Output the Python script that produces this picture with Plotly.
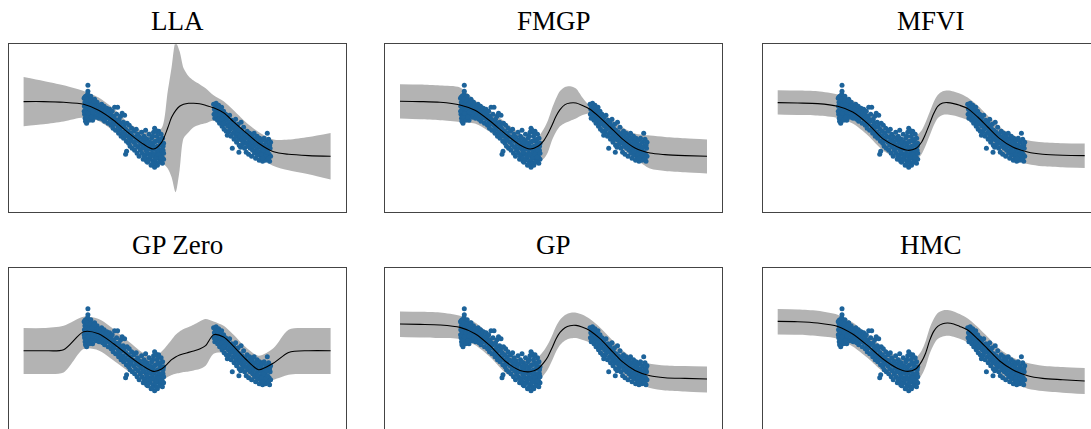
import plotly.graph_objects as go

# ---------------- data ----------------
GRID_X = [0, 20, 40, 60, 75, 90, 105, 120, 130, 138, 144, 148, 152, 156, 160, 165,
          170, 176, 182, 190, 200, 210, 222, 235, 250, 265, 285, 307]

TITLES = ["LLA", "FMGP", "MFVI", "GP Zero", "GP", "HMC"]

LLA_MEAN = [26.7, 26.7, 26, 24, 18, 8, -4.7, -16, -20.7, -14, 0, 11, 17.7, 22, 24, 25,
            25, 24.5, 23, 20.5, 15.5, 6.5, -4, -15, -23.5, -26, -27.3, -28]
LLA_UPPER = [51.3, 47.3, 43, 37.3, 30.7, 19.7, 5.3, -3, -3, 0, 36, 61, 86, 77, 60, 52,
             47.7, 44, 40, 33, 27, 18, 6.3, -3.7, -11.3, -11.3, -8.7, -4.7]
LLA_LOWER = [2, 4, 6.7, 10.7, 7.3, -2.7, -14.7, -25.3, -31, -34, -40, -49, -64, -42, -10, -4,
             1, 3.5, 5, 7.5, 0, -8.7, -18.7, -28.7, -37.7, -42, -46, -51.3]

FMGP_MEAN = [27, 26.7, 26, 23.3, 18, 7.3, -5.3, -16.7, -20.7, -18, -12, -5.3, 3, 12, 18.7, 23.7,
             25.3, 25.3, 23, 19, 10.7, 1.3, -10.3, -19.7, -24.7, -26.3, -27.3, -28]
FMGP_UPPER = [44, 43.7, 42.7, 40.7, 28, 18, 6.3, -5.3, -11.3, -8.7, -0.3, 8, 19.7, 29.7, 37.3, 41.3,
              42, 39.7, 31.3, 22, 16.3, 9.7, 1.3, -5.3, -7.3, -8.7, -10, -11.3]
FMGP_LOWER = [9.7, 9, 8, 6.3, 4.7, -3.7, -15.3, -27, -32, -33.7, -30.3, -23.7, -12, -3.7, 2, 5.3,
              7.3, 9.7, 13, 14.7, 3, -8.7, -20.3, -30.3, -40.3, -42.7, -44, -45.3]

MFVI_MEAN = [25.7, 25.3, 24.7, 22, 16.3, 4.7, -10.3, -18.7, -22, -20.3, -13.7, -5.3, 4.7, 14.7, 22, 25.3,
             25.7, 24.7, 23, 19.7, 11.3, 1.3, -10.3, -18.7, -23.7, -26, -27, -27.3]
MFVI_UPPER = [38, 37.7, 37, 33.7, 28, 16.3, 1.3, -7, -10, -8, -2, 6.3, 16.3, 26.3, 33.3, 37,
              37.7, 36.7, 34.7, 30.7, 22.7, 12.7, 1.3, -6.7, -12, -14, -15, -15.3]
MFVI_LOWER = [13.7, 13.3, 12.7, 10.3, 4.7, -7, -22, -30.7, -34, -32.3, -25.7, -17.3, -7.3, 2.7, 10, 13.3,
              13.7, 12.7, 11, 8, -0.3, -10.3, -22, -30.7, -35.7, -38, -39, -39.7]

GPZ_MEAN = [1, 1, 2, 20, 18, 8, -4, -14.7, -19.7, -17.3, -12, -8, -5.3, -3.3, -2, -0.7,
            0.7, 2.7, 6, 17, 14.7, 5.3, -7.3, -18, -11.3, -0.7, 1, 1]
GPZ_UPPER = [23.7, 23.7, 26, 35, 32.7, 22.7, 10.3, -1.3, -4.7, 0.3, 7, 12, 17, 20.3, 22.7, 24.7,
             27, 30.3, 32.7, 30.3, 26, 17, 4.7, -4, 3.7, 22, 23.7, 23.7]
GPZ_LOWER = [-22.3, -22.3, -20.7, 2.7, 1.3, -8.7, -19.7, -28.7, -32, -29.7, -25.3, -23.3, -22, -21.3, -20.3, -19.7,
             -18.7, -17.3, -14, -2, -1.3, -10.7, -22, -31.3, -28, -23, -22.3, -22.3]

GP_MEAN = [27.7, 27.3, 26.7, 24.3, 18, 6, -9.3, -18.7, -20, -17, -10.7, -4.7, 3.7, 12.7, 19.3, 24,
           26, 26.3, 24.7, 21, 13, 2.7, -9.7, -18.7, -24, -26, -26.7, -27.3]
GP_UPPER = [40.3, 40, 39.3, 36, 29.3, 17.3, 2, -7.3, -8.7, -5.3, 1.3, 7.7, 16, 25.3, 32, 36.7,
            38.7, 39, 37.3, 32.7, 24.3, 14, 1.7, -7.3, -12, -13.7, -14.3, -14.7]
GP_LOWER = [14.7, 14.3, 13.7, 12.7, 6.7, -5.3, -20.7, -30, -31.3, -28.7, -23, -17.3, -9, 0, 6.7, 11.3,
            13.3, 13.7, 12, 9.3, 1.7, -8.7, -21, -30, -36.3, -38.7, -39.7, -40.7]

HMC_MEAN = [30.3, 30, 28.7, 25.3, 17.7, 6, -7, -16.7, -19.7, -17.3, -9.7, -1.3, 11.3, 20.3, 25.3, 28,
            28.7, 27.7, 25.3, 21.7, 12.7, 2.7, -9.3, -18, -24, -26.7, -28, -29.3]
HMC_UPPER = [42.7, 42.3, 41, 37, 29.3, 17.7, 4.7, -5, -8, -6, 1.3, 10.7, 23.7, 32.7, 38.7, 41.3,
             41.7, 40.3, 37.7, 33.3, 24.7, 14.7, 2.7, -5.7, -11.3, -14, -15.3, -16.3]
HMC_LOWER = [17.3, 17, 15.7, 13, 5.3, -6.3, -19.7, -29.3, -32.7, -30.7, -23.3, -14.7, -2, 7, 12.7, 15.3,
             16, 15, 13, 9.3, 0.3, -9.7, -22, -31, -37, -39.3, -41, -42.3]

CLUSTER1_X = [60.5, 60.8, 61, 61.3, 61.5, 61.8, 62, 62.3, 62.6, 63, 63, 63.4, 63.7, 64, 64.3, 64.3, 64.5, 64.8,
              65.2, 65.5, 65.8, 66.2, 66.5, 67, 67.2, 67.6, 68, 68.3, 68.7, 69, 69.5, 70, 70.3,
              71, 71.5, 72, 72.4, 73, 73.5, 74, 74.6, 75, 75.5, 76, 76.8, 77,
              78, 78.5, 79, 79.6, 80, 80.5, 81, 81.6, 82, 82.7, 83.3, 84, 84.5, 85,
              86, 86.5, 87, 87.5, 88, 88.6, 89, 89.5, 90, 90.6, 91, 91.4, 92, 92.5, 93,
              94, 94.5, 95, 95.5, 96, 96.6, 97, 97.5, 98, 98.5, 99, 99.6, 100, 100.5, 101, 101.5,
              102, 103, 102.3, 102.8, 103.5, 104, 104.5, 105, 105.6, 106, 106.5, 107, 107.5, 108, 108.6, 109,
              110, 110.5, 111, 111.5, 112, 112.6, 113, 113.5, 114, 114.6, 115, 115.5, 116, 116.6, 117,
              118, 118.5, 119, 119.6, 120, 120.5, 121, 121.6, 122, 122.6, 123, 123.5, 124, 124.4, 125, 125.5,
              126, 126.6, 127, 127.5, 128,
              128.6, 129, 129.5, 130, 130.5, 131, 131, 131.5, 132, 132.6, 133, 133.5, 134, 134.6, 135, 135.5,
              136, 136.6, 137, 137.5, 138, 138.6, 139, 139.4, 140, 140,
              119, 120.5, 121.5, 122.5, 123.5, 124, 125, 126, 127, 127.8, 128.5, 129.2, 130, 130.8, 131.6,
              132.2, 133, 133.8, 134.4, 135, 135.8, 136.4, 137.2, 138, 138.8, 139.5, 140, 137, 134, 132,
              60.6, 61.2, 61.9, 62.5, 63.2, 63.8, 64.6, 65, 65.7, 66.3, 67, 67.8, 68.5, 69.2, 70.5]
CLUSTER1_Y = [30, 22, 14, 26, 10, 18, 32, 24, 12, 28, 5, 20, 16, 34, 43, 37, 9, 25,
              30, 13, 21, 27, 17, 11, 32, 23, 15, 28, 19, 8, 25, 13, 21,
              29, 17, 24, 11, 20, 26, 14, 19, 23, 10, 17, 21, 13,
              24, 16, 9, 19, 13, 22, 7, 15, 18, 10, 20, 12, 5, 15,
              19, 9, 14, 3, 11, 17, 6, 0, 12, 4, 21, 9, -2, 7, 14,
              21, 2, -5, 9, -1, 5, 12, -8, 1, 15, -4, 6, -10, 2, 13, -6,
              -26, -23, -1, -13, 5, -8, -3, -15, 3, -10, -18, -5, -12, 0, -20, -8,
              -14, -3, -22, -9, -17, -1, -12, -25, -6, -19, -13, -28, -9, -22, -16,
              -4, -25, -12, -31, -19, -8, -27, -15, -2, -22, -33, -11, -34, -18, -26, -6,
              -14, -30, -21, -37, -10,
              -25, -17, -33, -4, -21, 0, -39, -28, -13, -35, -24, -8, -18, -30, -3, -22,
              -13, -33, -26, -6, -17, -29, -10, -22, -15, -31,
              -20, -28, -10, -30, -24, -14, -32, -20, -28, -15, -36, -8, -27, -14, -31,
              -19, -29, -37, -12, -26, -34, -17, -29, -22, -35, -18, -25, -11, -4, -2,
              17, 31, 7, 20, 11, 29, 15, 22, 8, 19, 28, 11, 24, 16, 27]

CLUSTER2_X = [190, 190.4, 190.8, 191.2, 191.6, 192, 192.5, 193, 193.5, 194, 194.5, 195, 195.5, 196, 196.5,
              197, 197.5, 198, 198.5, 199, 199.5, 200, 200.5, 201, 201.5, 202, 202.6, 203, 203.7, 204,
              204.5, 205, 205.5, 206, 206.5, 207, 207.5, 208, 208.7, 209, 209.5, 210, 210.5, 211, 211.5,
              212, 212.5, 213, 213.5, 214, 214.5, 215.3, 215, 215.6, 216, 216.5, 217, 217.5, 218, 218.5,
              219, 219.5, 220, 220.5, 221, 221.5, 222, 222.6, 223, 223.5, 224, 224.6, 225, 225.5, 226,
              226.6, 227, 227.5, 228, 228.6, 229, 229.5, 230, 230.5, 231, 231.5, 232, 232.5, 233, 233.5,
              234, 234.5, 235, 235.6, 236, 236.5, 237, 237.5, 238, 238.6, 239, 239.5, 240, 240.5, 241,
              241.5, 242, 242.5, 243, 243.7, 244, 244.5, 245, 245.5, 246, 246.5, 247, 247,
              192, 194, 196, 198, 200, 234, 236, 238, 240, 242, 244, 246, 245, 243, 239]
CLUSTER2_Y = [24, 14, 19, 10, 22, 16, 25, 12, 20, 8, 17, 23, 13, 5, 19,
              10, 15, 21, 2, 12, 7, 17, -1, 10, 4, 14, -3, 8, -7, 11,
              2, -4, 6, 13, -1, 3, -8, 8, -20, 0, -5, 6, -11, 2, -3,
              9, -8, -14, 0, -5, 4, -24, -11, -17, -2, -8, -19, 6, -12, -4,
              -16, -8, 1, -13, -20, -6, -10, -24, -15, -3, -18, -9, -26, -13, -5,
              -20, -11, -16, -28, -8, -22, -14, -18, -5, -25, -11, -30, -16, -21, -8,
              -27, -13, -19, -32, -10, -24, -15, -29, -20, -12, -33, -25, -17, -10, -28,
              -21, -32, -14, -24, -5, -30, -18, -11, -26, -33, -20, -14, -28,
              13, 21, 14, 9, 5, -23, -18, -26, -22, -27, -24, -17, -30, -19, -30]

PANELS = [
    (LLA_MEAN, LLA_UPPER, LLA_LOWER),
    (FMGP_MEAN, FMGP_UPPER, FMGP_LOWER),
    (MFVI_MEAN, MFVI_UPPER, MFVI_LOWER),
    (GPZ_MEAN, GPZ_UPPER, GPZ_LOWER),
    (GP_MEAN, GP_UPPER, GP_LOWER),
    (HMC_MEAN, HMC_UPPER, HMC_LOWER),
]

# ---------------- layout geometry ----------------
# the body margin is removed below, so the figure fills the whole window
W, H = 1091, 429
COL_LEFT = [8.6, 385, 762.7]
BOX_W = 337
ROW_TOP = [44.3, 267.7]
BOX_H = 168
X_LO, X_HI = -15, 322
Y_LO, Y_HI = -84, 84

BAND_COLOR = "#b3b3b3"
POINT_COLOR = "#1d639a"
FRAME = "#444444"

fig = go.Figure()
layout_axes = {}
annotations = []

all_x = CLUSTER1_X + CLUSTER2_X
all_y = CLUSTER1_Y + CLUSTER2_Y

for i, (mean, upper, lower) in enumerate(PANELS):
    r, c = divmod(i, 3)
    n = i + 1
    xa = "x" if n == 1 else f"x{n}"
    ya = "y" if n == 1 else f"y{n}"

    left = COL_LEFT[c]
    right = min(left + BOX_W, W)
    top = ROW_TOP[r]
    bottom = min(top + BOX_H, H)

    x_hi = X_LO + (X_HI - X_LO) * (right - left) / BOX_W
    y_lo = Y_HI - (Y_HI - Y_LO) * (bottom - top) / BOX_H

    fig.add_trace(go.Scatter(x=GRID_X, y=lower, mode="lines", line=dict(width=0, shape="spline", smoothing=0.8),
                             xaxis=xa, yaxis=ya, showlegend=False, hoverinfo="skip"))
    fig.add_trace(go.Scatter(x=GRID_X, y=upper, mode="lines", line=dict(width=0, shape="spline", smoothing=0.8),
                             fill="tonexty", fillcolor=BAND_COLOR,
                             xaxis=xa, yaxis=ya, showlegend=False, hoverinfo="skip"))
    fig.add_trace(go.Scatter(x=all_x, y=all_y, mode="markers",
                             marker=dict(size=5, color=POINT_COLOR, line=dict(width=0)),
                             xaxis=xa, yaxis=ya, showlegend=False))
    fig.add_trace(go.Scatter(x=GRID_X, y=mean, mode="lines",
                             line=dict(width=1.1, color="black", shape="spline", smoothing=0.8),
                             xaxis=xa, yaxis=ya, showlegend=False))

    xkey = "xaxis" if n == 1 else f"xaxis{n}"
    ykey = "yaxis" if n == 1 else f"yaxis{n}"
    layout_axes[xkey] = dict(
        domain=[left / W, right / W], range=[X_LO, x_hi], anchor=ya,
        showticklabels=False, ticks="", showgrid=False, zeroline=False,
        showline=True, linecolor=FRAME, linewidth=1,
        mirror=(r == 0), side=("bottom" if r == 0 else "top"),
    )
    layout_axes[ykey] = dict(
        domain=[1 - bottom / H, 1 - top / H], range=[y_lo, Y_HI], anchor=xa,
        showticklabels=False, ticks="", showgrid=False, zeroline=False,
        showline=True, linecolor=FRAME, linewidth=1,
        mirror=(c < 2),
    )
    annotations.append(dict(
        text=TITLES[i], xref="paper", yref="paper",
        x=(left + BOX_W / 2) / W, y=1 - top / H, xanchor="center", yanchor="bottom",
        yshift=6, showarrow=False,
        font=dict(family="Liberation Serif, DejaVu Serif, serif", size=27, color="black"),
    ))

fig.update_layout(
    width=W, height=H, margin=dict(l=0, r=0, t=0, b=0),
    paper_bgcolor="white", plot_bgcolor="white",
    annotations=annotations, **layout_axes,
)

fig.write_html(
    "out.html",
    config={"displayModeBar": False},
    post_script="document.body.style.margin='0';document.body.style.padding='0';document.body.style.overflow='hidden';",
)
